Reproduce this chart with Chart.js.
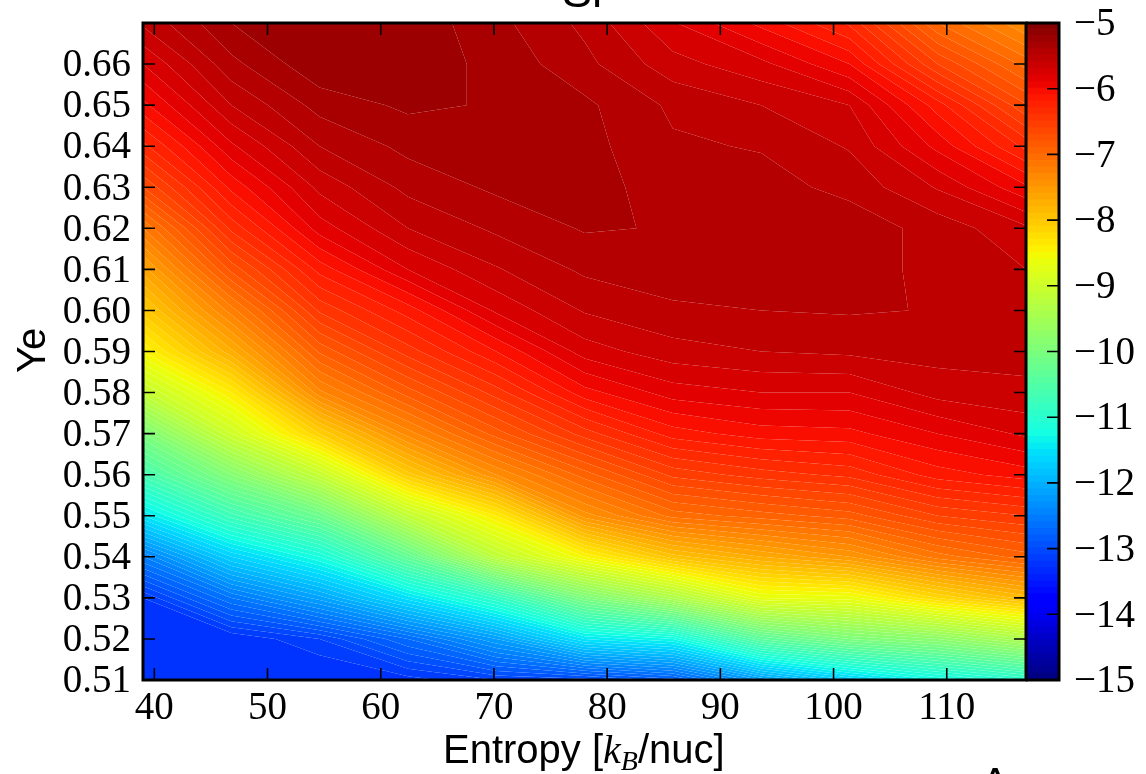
<!DOCTYPE html>
<html>
<head>
<meta charset="utf-8">
<script src="https://cdn.jsdelivr.net/npm/chart.js@4"></script>
<style>
  html, body { margin:0; padding:0; background:#fff; width:1146px; height:774px; overflow:hidden; }
  canvas { position:absolute; top:0; }
  .lbl { position:absolute; font-family:"Liberation Sans",sans-serif; color:#000; white-space:nowrap; line-height:1; }
  .lbl i { font-family:"Liberation Serif",serif; }
  .lbl sub { font-family:"Liberation Serif",serif; font-style:italic; font-size:70%; line-height:0; vertical-align:-0.25em; }
</style>
</head>
<body>
<canvas id="main" width="1146" height="774" style="left:0"></canvas>
<canvas id="cbar" width="120" height="774" style="left:1026px"></canvas>
<div class="lbl" style="left:562px;top:-31px;font-size:45px">Sr</div>
<div class="lbl" style="left:443px;top:729px;font-size:40px">Entropy [<i>k<sub>B</sub></i>/nuc]</div>
<div class="lbl" style="left:9px;top:331px;font-size:40px;transform:rotate(-90deg);transform-origin:center;width:44px;text-align:center">Ye</div>
<div class="lbl" style="left:980px;top:761px;font-size:45px">A</div>
<script>
// grid the contours were made on
const entropy = [39, 46.8, 54.6, 62.4, 70.2, 78, 85.8, 93.6, 101.4, 109.2, 117];
const ye = [0.51,0.52,0.53,0.54,0.55,0.56,0.57,0.58,0.59,0.60,0.61,0.62,0.63,0.64,0.65,0.66,0.67];

// log abundance per entropy column, bottom (Ye 0.51) to top (Ye 0.67)
const z39  = [-13.5,-13.4,-13.2,-12.5,-11.5,-10.65,-10.0,-9.15,-8.5,-8.05,-7.65,-7.2,-6.7,-6.33,-6.03,-5.8,-5.58];
const z47  = [-13.45,-13.3,-12.6,-11.7,-10.75,-9.9,-9.0,-8.4,-7.73,-7.25,-6.77,-6.37,-6.07,-5.82,-5.6,-5.43,-5.3];
const z55  = [-13.35,-13.1,-12.15,-11.2,-10.2,-9.1,-8.1,-7.33,-6.88,-6.48,-6.16,-5.85,-5.67,-5.5,-5.36,-5.22,-5.2];
const z62  = [-13.25,-12.7,-11.55,-10.3,-9.15,-8.05,-7.35,-6.85,-6.45,-6.15,-5.8,-5.6,-5.47,-5.37,-5.28,-5.24,-5.23];
const z70  = [-13.1,-12.2,-10.9,-9.2,-8.4,-7.4,-6.85,-6.45,-6.1,-5.78,-5.61,-5.48,-5.38,-5.31,-5.31,-5.33,-5.37];
const z78  = [-13.05,-11.5,-10.0,-8.5,-7.45,-6.95,-6.45,-6.04,-5.75,-5.59,-5.48,-5.39,-5.34,-5.365,-5.378,-5.47,-5.525];
const z86  = [-12.85,-11.3,-9.4,-7.95,-7.06,-6.57,-6.15,-5.85,-5.64,-5.52,-5.44,-5.407,-5.47,-5.485,-5.52,-5.66,-5.79];
const z94  = [-12.2,-10.4,-8.7,-7.7,-6.95,-6.45,-6.05,-5.8,-5.6,-5.5,-5.44,-5.44,-5.46,-5.508,-5.6,-5.77,-6.03];
const z101 = [-11.7,-10.0,-8.65,-7.5,-6.85,-6.37,-6.03,-5.8,-5.58,-5.49,-5.44,-5.44,-5.53,-5.61,-5.7,-6.0,-6.32];
const z109 = [-11.3,-9.8,-8.2,-7.15,-6.6,-6.15,-5.9,-5.66,-5.56,-5.505,-5.54,-5.54,-5.71,-5.93,-6.15,-6.6,-7.0];
const z117 = [-11.0,-9.4,-7.85,-6.95,-6.5,-6.05,-5.78,-5.62,-5.57,-5.58,-5.6,-5.68,-5.98,-6.33,-6.69,-7.04,-7.4];
const zColumns = [z39,z47,z55,z62,z70,z78,z86,z94,z101,z109,z117];

const xTicks = [40,50,60,70,80,90,100,110];
const yTicks = [0.51,0.52,0.53,0.54,0.55,0.56,0.57,0.58,0.59,0.60,0.61,0.62,0.63,0.64,0.65,0.66];
const cbarTicks = [-15,-14,-13,-12,-11,-10,-9,-8,-7,-6,-5];

const cbarMin = -15, cbarMax = -5, levelStep = 0.1;
const lowestLevel = -13.2, highestLevel = -5.3;
const serif = '"Liberation Serif", serif';

// matplotlib jet
function lerpStops(t, stops){
  for(let i=1;i<stops.length;i++){
    if(t<=stops[i][0]){
      const a=stops[i-1], b=stops[i];
      return a[1]+(b[1]-a[1])*(t-a[0])/(b[0]-a[0]);
    }
  }
  return stops[stops.length-1][1];
}
function jet(v){
  const t = Math.max(0,Math.min(1,(v-cbarMin)/(cbarMax-cbarMin)));
  const r = lerpStops(t,[[0,0],[0.35,0],[0.66,1],[0.89,1],[1,0.5]]);
  const g = lerpStops(t,[[0,0],[0.125,0],[0.375,1],[0.64,1],[0.91,0],[1,0]]);
  const b = lerpStops(t,[[0,0.5],[0.11,1],[0.34,1],[0.65,0],[1,0]]);
  return `rgb(${Math.round(r*255)},${Math.round(g*255)},${Math.round(b*255)})`;
}

// clip a polygon of {x,y,z} to z>=v (sign 1) or z<=v (sign -1)
function clipPoly(poly, v, sign){
  const out=[];
  for(let i=0;i<poly.length;i++){
    const a=poly[i], b=poly[(i+1)%poly.length];
    const ia=(a.z-v)*sign>=0, ib=(b.z-v)*sign>=0;
    if(ia) out.push(a);
    if(ia!==ib){
      const t=(v-a.z)/(b.z-a.z);
      out.push({x:a.x+(b.x-a.x)*t,y:a.y+(b.y-a.y)*t,z:v});
    }
  }
  return out;
}

const gridPoints = [];
entropy.forEach((x,i)=>ye.forEach((y,j)=>gridPoints.push({x,y,z:zColumns[i][j]})));

const contourPlugin = {
  id:'contour',
  beforeDatasetsDraw(chart){
    const {ctx,chartArea:ca,scales:{x:sx,y:sy}} = chart;
    const pt=(i,j)=>({x:sx.getPixelForValue(entropy[i]),y:sy.getPixelForValue(ye[j]),z:zColumns[i][j]});
    ctx.save();
    ctx.beginPath(); ctx.rect(ca.left,ca.top,ca.width,ca.height); ctx.clip();
    const nBands=Math.round((highestLevel-lowestLevel)/levelStep);
    for(let k=-1;k<=nBands;k++){
      const lo=k<0?-99:lowestLevel+k*levelStep;
      const hi=k>=nBands?99:lowestLevel+(k+1)*levelStep;
      const mid=k<0?lowestLevel-levelStep/2:k>=nBands?highestLevel+levelStep/2:(lo+hi)/2;
      ctx.beginPath();
      for(let i=0;i<entropy.length-1;i++){
        for(let j=0;j<ye.length-1;j++){
          let p=[pt(i,j),pt(i+1,j),pt(i+1,j+1),pt(i,j+1)];
          p=clipPoly(clipPoly(p,lo,1),hi,-1);
          if(p.length<3) continue;
          ctx.moveTo(p[0].x,p[0].y);
          for(let n=1;n<p.length;n++) ctx.lineTo(p[n].x,p[n].y);
          ctx.closePath();
        }
      }
      ctx.fillStyle=jet(mid);
      ctx.fill();
    }
    ctx.restore();
  },
  afterDraw(chart){
    const {ctx,chartArea:ca,scales:{x:sx,y:sy}} = chart;
    ctx.save();
    ctx.strokeStyle='#000';
    ctx.lineWidth=1.6;
    ctx.beginPath();
    xTicks.forEach(v=>{
      const px=sx.getPixelForValue(v);
      ctx.moveTo(px,ca.bottom); ctx.lineTo(px,ca.bottom-12);
      ctx.moveTo(px,ca.top); ctx.lineTo(px,ca.top+12);
    });
    yTicks.forEach(v=>{
      const py=sy.getPixelForValue(v);
      ctx.moveTo(ca.left,py); ctx.lineTo(ca.left+12,py);
      ctx.moveTo(ca.right,py); ctx.lineTo(ca.right-12,py);
    });
    ctx.stroke();
    ctx.lineWidth=3;
    ctx.strokeRect(ca.left,ca.top,ca.width,ca.height);
    ctx.restore();
  }
};

new Chart(document.getElementById('main'),{
  type:'scatter',
  data:{datasets:[{data:gridPoints,pointRadius:0,showLine:false}]},
  plugins:[contourPlugin],
  options:{
    responsive:false,animation:false,
    layout:{padding:{top:23,right:120,left:0,bottom:0}},
    plugins:{legend:{display:false},tooltip:{enabled:false}},
    scales:{
      x:{
        type:'linear',min:39,max:117,
        afterBuildTicks:s=>{s.ticks=xTicks.map(v=>({value:v}));},
        afterFit:s=>{s.height=94;s.paddingLeft=0;s.paddingRight=0;},
        grid:{display:false},border:{display:false},
        ticks:{font:{family:serif,size:39},color:'#000',padding:-3,maxRotation:0,autoSkip:false}
      },
      y:{
        type:'linear',min:0.51,max:0.67,
        afterBuildTicks:s=>{s.ticks=yTicks.map(v=>({value:v}));},
        afterFit:s=>{s.width=143;s.paddingTop=0;s.paddingBottom=0;},
        grid:{display:false},border:{display:false},
        ticks:{font:{family:serif,size:39},color:'#000',padding:4,labelOffset:2,autoSkip:false,callback:v=>v.toFixed(2)}
      }
    }
  }
});

// colorbar, one floating bar per level
const cbarLevels = [];
for(let k=0;k<100;k++) cbarLevels.push(cbarMin+k*levelStep);

const cbarFrame = {
  id:'cbarFrame',
  afterDraw(chart){
    const {ctx,chartArea:ca,scales:{y:sy}} = chart;
    ctx.save();
    ctx.strokeStyle='#000';
    ctx.lineWidth=1.6;
    ctx.beginPath();
    cbarTicks.forEach(v=>{
      const py=sy.getPixelForValue(v);
      ctx.moveTo(ca.right,py); ctx.lineTo(ca.right-12,py);
    });
    ctx.stroke();
    ctx.lineWidth=3;
    ctx.strokeRect(ca.left,ca.top,ca.width,ca.height);
    ctx.restore();
  }
};

new Chart(document.getElementById('cbar'),{
  type:'bar',
  data:{
    labels:[''],
    datasets:cbarLevels.map(l=>({
      data:[[l,l+levelStep+0.01]],
      backgroundColor:jet(l+levelStep/2),
      borderWidth:0,grouped:false,barPercentage:1,categoryPercentage:1
    }))
  },
  plugins:[cbarFrame],
  options:{
    responsive:false,animation:false,
    layout:{padding:{top:23,right:0,left:0,bottom:94}},
    plugins:{legend:{display:false},tooltip:{enabled:false}},
    scales:{
      x:{display:false},
      y:{
        position:'right',min:cbarMin,max:cbarMax,
        afterBuildTicks:s=>{s.ticks=cbarTicks.map(v=>({value:v}));},
        afterFit:s=>{s.width=87;s.paddingTop=0;s.paddingBottom=0;},
        grid:{display:false},border:{display:false},
        ticks:{font:{family:serif,size:39},color:'#000',padding:7,labelOffset:2,autoSkip:false,callback:v=>'\u2212'+Math.abs(v)}
      }
    }
  }
});
</script>
</body>
</html>
